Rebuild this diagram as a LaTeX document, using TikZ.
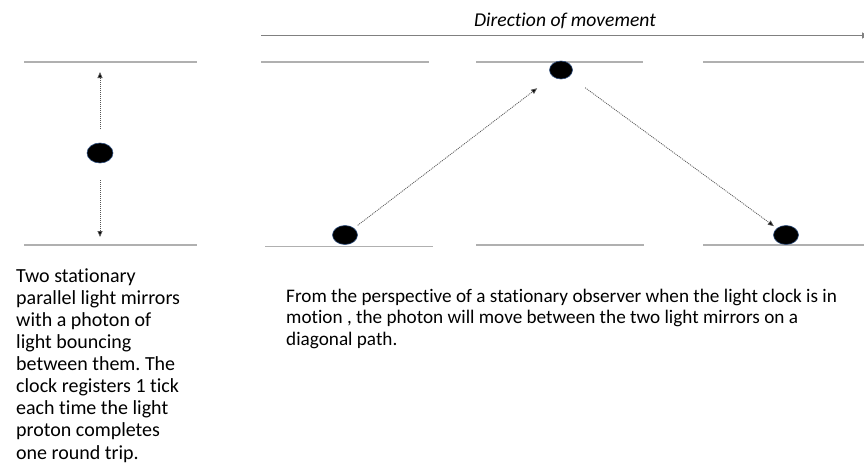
\documentclass[tikz,border=0pt]{standalone}
\usepackage{fontspec}
\setmainfont[Ligatures=NoCommon]{Carlito}
\usetikzlibrary{arrows.meta,shapes.geometric}
\definecolor{mirror}{HTML}{B0B0B0}
\definecolor{dirline}{HTML}{808080}
\definecolor{photonedge}{HTML}{2F4F7F}
\definecolor{ray}{HTML}{555555}
\frenchspacing
\begin{document}
\begin{tikzpicture}[x=1pt,y=-1pt,
  mirrorline/.style={draw=mirror,line width=1.5pt},
  photon/.style={ellipse,fill=black,draw=photonedge,line width=0.6pt,minimum width=25pt,minimum height=19pt,inner sep=0pt},
  photonsmall/.style={photon,minimum width=23pt,minimum height=18pt},
  ray/.style={draw=ray,line width=0.8pt,dash pattern=on 1pt off 1pt,-{Triangle[length=6pt,width=5pt,fill=black]}},
  txt/.style={align=left,inner sep=0pt,anchor=base west}]
\useasboundingbox (0,0) rectangle (864,466);
% left stationary clock
\draw[mirrorline] (24,62) -- (197,62);
\draw[mirrorline] (24,245) -- (197,245);
\coordinate (lt) at (100,62);
\coordinate (lb) at (100,245);
\node[photon,minimum width=26pt,minimum height=20pt] (p0) at (100,153) {};
\draw[ray,shorten <=24pt,shorten >=10pt] (p0.center) -- (lt);
\draw[ray,shorten <=27pt,shorten >=8pt] (p0.center) -- (lb);
% direction of movement
\coordinate (ds) at (261,35.5);
\coordinate (de) at (868,35.5);
\draw[draw=dirline,line width=1pt,-{Triangle[length=6pt,width=6pt]}] (ds) -- (de);
\node[font=\fontsize{19.6}{21}\selectfont\itshape,inner sep=0pt,anchor=base] (dir) at (565,26) {Direction of movement};
% moving mirrors
\draw[mirrorline] (261,62) -- (429,62);
\draw[mirrorline] (476,62) -- (643,62);
\draw[mirrorline] (703,62) -- (864,62);
\draw[mirrorline] (265,246.5) -- (433,246.5);
\draw[mirrorline] (476,245) -- (644,245);
\draw[mirrorline] (703,245) -- (864,245);
% photons on the diagonal path
\node[photon] (p1) at (345,235) {};
\node[photonsmall] (p2) at (561,70) {};
\node[photon] (p3) at (786,235) {};
\draw[ray,shorten <=16pt,shorten >=30pt] (p1.center) -- (p2.center);
\draw[ray,shorten <=30pt,shorten >=15pt] (p2.center) -- (p3.center);
% texts (anchor at the baseline of the last line)
\node[txt,font=\fontsize{20}{22.1}\selectfont] (t1) at (16,459) {Two stationary\\parallel light mirrors\\with a photon of\\light bouncing\\between them. The\\clock registers 1 tick\\each time the light\\proton completes\\one round trip.};
\node[txt,font=\fontsize{19.2}{21.3}\selectfont] (t2) at (286,345.2) {From the perspective of a stationary observer when the light clock is in\\motion , the photon will move between the two light mirrors on a\\diagonal path.};
\end{tikzpicture}
\end{document}
